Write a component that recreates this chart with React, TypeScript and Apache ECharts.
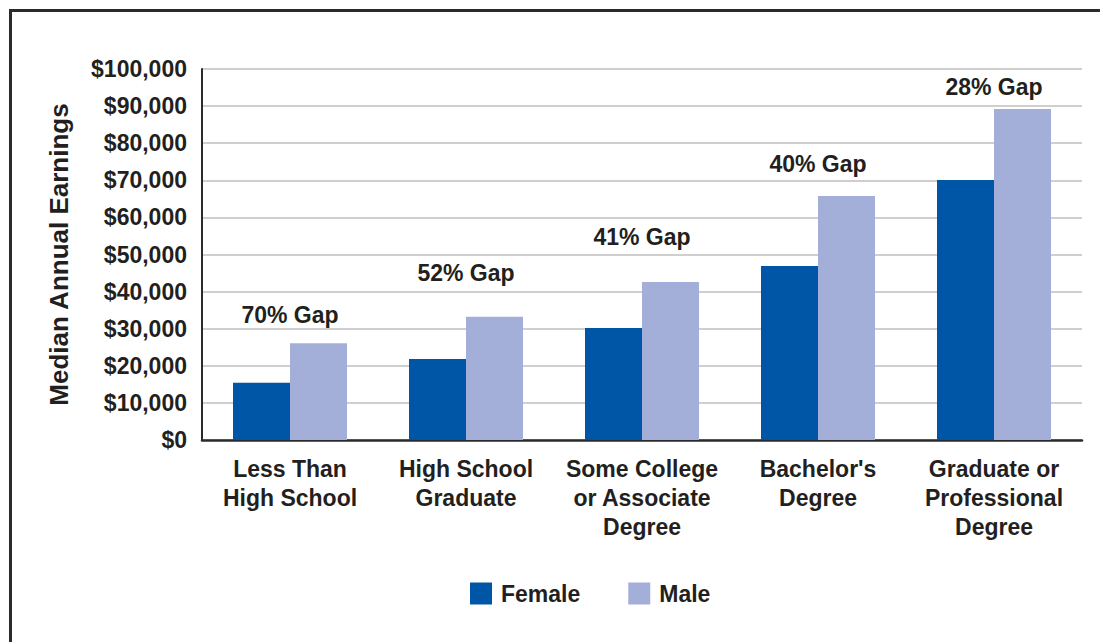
import React, { useEffect, useRef } from "react";
import * as echarts from "echarts";

const categories = [
  "Less Than\nHigh School",
  "High School\nGraduate",
  "Some College\nor Associate\nDegree",
  "Bachelor's\nDegree",
  "Graduate or\nProfessional\nDegree",
];
const female = [15400, 21800, 30200, 46900, 70100];
const male = [26100, 33200, 42600, 65800, 89200];
const gapLabels = ["70% Gap", "52% Gap", "41% Gap", "40% Gap", "28% Gap"];
const gapLabelAt = [33700, 45000, 54700, 74400, 95100];
const yTicks = { min: 0, max: 100000, interval: 10000 };

const FONT = "'Liberation Sans', Arial, Helvetica, sans-serif";
const TEXT = "#231f20";

export default function App() {
  const ref = useRef<HTMLDivElement>(null);
  useEffect(() => {
    document.body.style.margin = "0";
    const chart = echarts.init(ref.current!, null, { renderer: "svg" });
    chart.setOption({
      animation: false,
      textStyle: { fontFamily: FONT },
      graphic: [
        {
          type: "rect",
          shape: { x: 10.5, y: 10.5, width: 1300, height: 900 },
          style: { fill: "none", stroke: "#2b2b2b", lineWidth: 3 },
          silent: true,
        },
      ],
      grid: { left: 202, right: 18, top: 69, bottom: 202, containLabel: false },
      legend: {
        data: ["Female", "Male"],
        left: 465,
        top: 577,
        itemWidth: 22,
        itemHeight: 22,
        itemGap: 48,
        icon: "rect",
        textStyle: { fontSize: 23, fontWeight: "bold", color: TEXT, fontFamily: FONT, padding: [0, 0, 0, 4] },
      },
      xAxis: {
        type: "category",
        data: categories,
        axisLine: { lineStyle: { color: "#2b2b2b", width: 2.5 } },
        axisTick: { show: false },
        axisLabel: {
          fontSize: 23,
          fontWeight: "bold",
          color: TEXT,
          fontFamily: FONT,
          lineHeight: 29,
          margin: 14,
          interval: 0,
        },
      },
      yAxis: {
        type: "value",
        min: yTicks.min,
        max: yTicks.max,
        interval: yTicks.interval,
        name: "Median Annual Earnings",
        nameLocation: "middle",
        nameGap: 130,
        nameTextStyle: { fontSize: 26, fontWeight: "bold", color: TEXT, fontFamily: FONT },
        axisLine: { show: true, lineStyle: { color: "#2b2b2b", width: 2 } },
        axisTick: { show: false },
        splitLine: { lineStyle: { color: "#bfbfbf", width: 1.5 } },
        axisLabel: {
          fontSize: 23,
          fontWeight: "bold",
          color: TEXT,
          fontFamily: FONT,
          margin: 15,
          formatter: (v: number) => "$" + v.toLocaleString("en-US"),
        },
      },
      series: [
        {
          name: "Female",
          type: "bar",
          data: female,
          barWidth: 57,
          barGap: "0%",
          itemStyle: { color: "#0056a6" },
        },
        {
          name: "Male",
          type: "bar",
          data: male,
          barWidth: 57,
          barGap: "0%",
          itemStyle: { color: "#a4afd9" },
        },
        {
          name: "gaps",
          type: "scatter",
          symbolSize: 0,
          itemStyle: { opacity: 1 },
          data: gapLabelAt.map((y, i) => [i, y]),
          label: {
            show: true,
            position: "inside",
            formatter: (p: any) => gapLabels[p.dataIndex],
            fontSize: 23,
            fontWeight: "bold",
            color: TEXT,
            opacity: 1,
            fontFamily: FONT,
          },
          silent: true,
        },
      ],
    });
    return () => chart.dispose();
  }, []);
  return <div ref={ref} style={{ width: 1100, height: 642 }} />;
}
